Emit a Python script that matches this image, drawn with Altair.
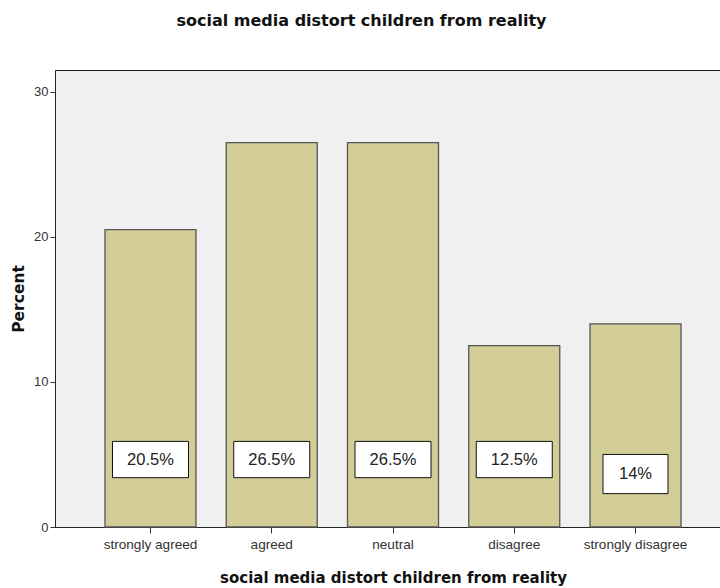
import altair as alt
import pandas as pd

categories = ["strongly agreed", "agreed", "neutral", "disagree", "strongly disagree"]
percents = [20.5, 26.5, 26.5, 12.5, 14.0]
labels = ["20.5%", "26.5%", "26.5%", "12.5%", "14%"]
box_top = [5.9, 5.9, 5.9, 5.9, 5.0]
box_bottom = [3.4, 3.4, 3.4, 3.4, 2.3]
box_wide = [True, True, True, True, False]

df = pd.DataFrame({
    "cat": categories,
    "pct": percents,
    "label": labels,
    "btop": box_top,
    "bbot": box_bottom,
    "bmid": [(a + b) / 2 for a, b in zip(box_top, box_bottom)],
    "wide": box_wide,
})

FONT = "Liberation Sans"
TFONT = "DejaVu Sans"
TITLE = "social media distort children from reality"

xscale = alt.Scale(domain=categories, range=[34.875, 641.125], paddingInner=0.2495, paddingOuter=0.1247)
yscale = alt.Scale(domain=[0, 31.5], nice=False)

x = alt.X("cat:N", scale=xscale, sort=categories,
          axis=alt.Axis(title=TITLE, labelAngle=0, labelFont=FONT, labelFontSize=13.6,
                        labelColor="#333333", labelPadding=4, tickSize=6, tickColor="#333333",
                        domainColor="#222222", titleFont=TFONT, titleFontSize=15,
                        titleFontWeight="bold", titleColor="#111111",
                        titleX=338, titleY=50, titleBaseline="middle"))
y = alt.Y("pct:Q", scale=yscale,
          axis=alt.Axis(title="Percent", values=[0, 10, 20, 30], grid=False, labelFont=FONT,
                        labelFontSize=13, labelColor="#333333", tickSize=5, tickColor="#333333",
                        labelPadding=2, domainColor="#222222", titleFont=TFONT, titleFontSize=15.5,
                        titleFontWeight="bold", titleColor="#111111", titleX=-37,
                        titleBaseline="middle"))

bars = alt.Chart(df).mark_bar(color="#D3CD98", stroke="#555555", strokeWidth=1.3).encode(x=x, y=y)

box_wide_layer = alt.Chart(df).transform_filter("datum.wide").mark_bar(
    color="white", stroke="#111111", strokeWidth=1, width=76
).encode(x=alt.X("cat:N", scale=xscale, sort=categories),
         y=alt.Y("btop:Q", scale=yscale), y2="bbot:Q")

box_narrow_layer = alt.Chart(df).transform_filter("!datum.wide").mark_bar(
    color="white", stroke="#111111", strokeWidth=1, width=65
).encode(x=alt.X("cat:N", scale=xscale, sort=categories),
         y=alt.Y("btop:Q", scale=yscale), y2="bbot:Q")

texts = alt.Chart(df).mark_text(font=FONT, fontSize=16.5, color="#222222", baseline="middle").encode(
    x=alt.X("cat:N", scale=xscale, sort=categories),
    y=alt.Y("bmid:Q", scale=yscale),
    text="label:N",
)

chart = alt.layer(bars, box_wide_layer, box_narrow_layer, texts).properties(
    width=665, height=457,
    autosize=alt.AutoSizeParams(type="none"),
    padding={"left": 55, "top": 70, "right": 0, "bottom": 61},
    background="white",
    title=alt.TitleParams(TITLE, font=TFONT, fontSize=16, fontWeight="bold", color="#111111",
                          anchor="middle", baseline="bottom", offset=25, dx=-26),
).configure_view(fill="#F0F0F0", stroke="#222222", strokeWidth=1)

chart.save("out.html", embed_options={"renderer": "svg", "actions": False})
